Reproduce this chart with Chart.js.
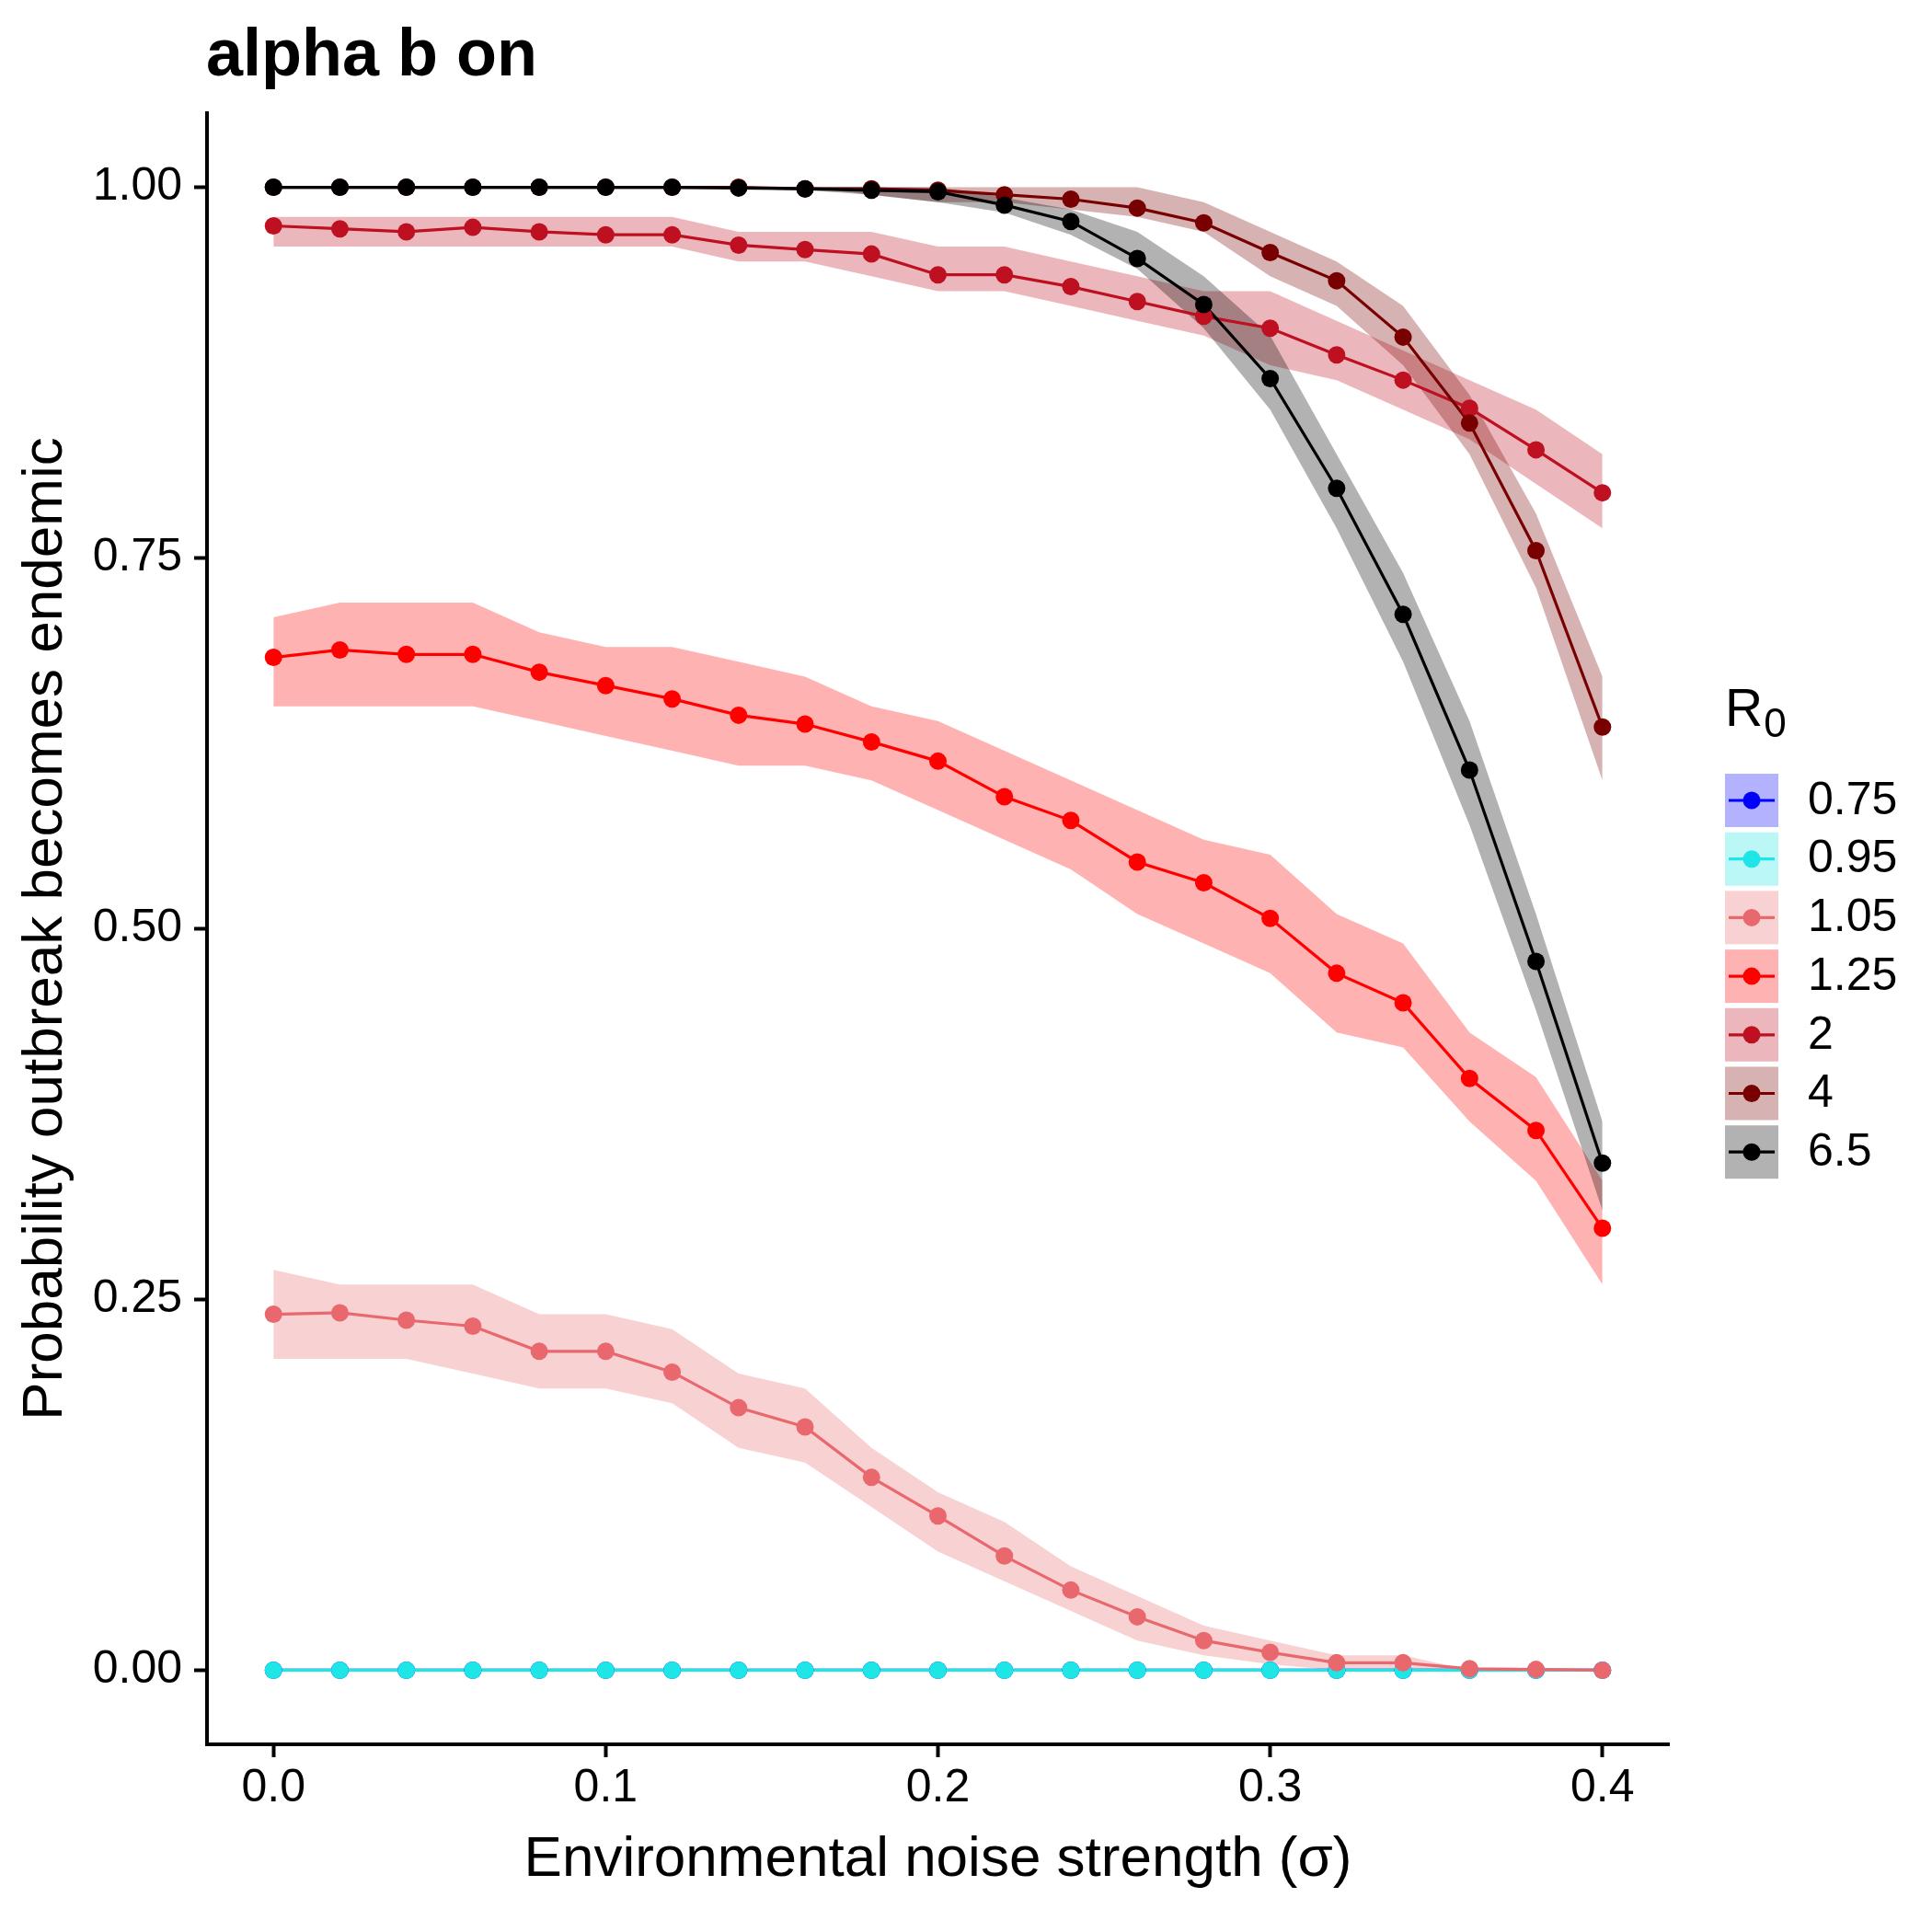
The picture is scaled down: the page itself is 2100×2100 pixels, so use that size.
<!DOCTYPE html>
<html><head><meta charset="utf-8">
<script src="https://cdn.jsdelivr.net/npm/chart.js@4/dist/chart.umd.min.js"></script>
<style>html,body{margin:0;padding:0;background:#fff}canvas{display:block}</style>
</head><body>
<canvas id="c" width="2100" height="2100" style="width:2100px;height:2100px"></canvas>
<script>
// ---------- data ----------
const sigma = [0.00,0.02,0.04,0.06,0.08,0.10,0.12,0.14,0.16,0.18,0.20,0.22,0.24,0.26,0.28,0.30,0.32,0.34,0.36,0.38,0.40];
const r0Labels = ['0.75','0.95','1.05','1.25','2','4','6.5'];
const xTicks = [0.0,0.1,0.2,0.3,0.4];
const xTickLabels = ['0.0','0.1','0.2','0.3','0.4'];
const yTicks = [0.00,0.25,0.50,0.75,1.00];
const yTickLabels = ['0.00','0.25','0.50','0.75','1.00'];

const p075  = [0,0,0,0,0,0,0,0,0,0,0,0,0,0,0,0,0,0,0,0,0];
const lo075 = [0,0,0,0,0,0,0,0,0,0,0,0,0,0,0,0,0,0,0,0,0];
const hi075 = [0,0,0,0,0,0,0,0,0,0,0,0,0,0,0,0,0,0,0,0,0];

const p095  = [0,0,0,0,0,0,0,0,0,0,0,0,0,0,0,0,0,0,0,0,0];
const lo095 = [0,0,0,0,0,0,0,0,0,0,0,0,0,0,0,0,0,0,0,0,0];
const hi095 = [0,0,0,0,0,0,0,0,0,0,0,0,0,0,0,0,0,0,0,0,0];

const p105  = [0.240,0.241,0.236,0.232,0.215,0.215,0.201,0.177,0.164,0.130,0.104,0.077,0.054,0.036,0.020,0.012,0.005,0.005,0.001,0.0005,0.000];
const lo105 = [0.21,0.21,0.21,0.20,0.19,0.19,0.18,0.15,0.14,0.11,0.08,0.06,0.04,0.02,0.01,0.004,0.00,0.00,0.00,0.00,0.00];
const hi105 = [0.27,0.26,0.26,0.26,0.24,0.24,0.23,0.20,0.19,0.15,0.12,0.10,0.07,0.05,0.03,0.02,0.01,0.01,0.00,0.00,0.00];

const p125  = [0.683,0.688,0.685,0.685,0.673,0.664,0.655,0.644,0.638,0.626,0.613,0.589,0.573,0.545,0.531,0.507,0.470,0.450,0.399,0.364,0.298];
const lo125 = [0.65,0.65,0.65,0.65,0.64,0.63,0.62,0.61,0.61,0.60,0.58,0.56,0.54,0.51,0.49,0.47,0.43,0.42,0.37,0.33,0.26];
const hi125 = [0.71,0.72,0.72,0.72,0.70,0.69,0.69,0.68,0.67,0.65,0.64,0.62,0.60,0.58,0.56,0.55,0.51,0.49,0.43,0.40,0.33];

const p2  = [0.974,0.972,0.970,0.973,0.970,0.968,0.968,0.961,0.958,0.955,0.941,0.941,0.933,0.923,0.913,0.905,0.887,0.870,0.851,0.823,0.794];
const lo2 = [0.96,0.96,0.96,0.96,0.96,0.96,0.96,0.95,0.95,0.94,0.93,0.93,0.92,0.91,0.90,0.88,0.87,0.85,0.83,0.80,0.77];
const hi2 = [0.98,0.98,0.98,0.98,0.98,0.98,0.98,0.97,0.97,0.97,0.96,0.96,0.95,0.94,0.93,0.93,0.91,0.89,0.87,0.85,0.82];

const p4  = [1.000,1.000,1.000,1.000,1.000,1.000,1.000,1.000,0.999,0.999,0.998,0.995,0.992,0.986,0.976,0.956,0.937,0.899,0.841,0.755,0.636];
const lo4 = [1.00,1.00,1.00,1.00,1.00,1.00,1.00,1.00,1.00,0.995,0.99,0.99,0.985,0.98,0.97,0.94,0.92,0.88,0.82,0.73,0.60];
const hi4 = [1.00,1.00,1.00,1.00,1.00,1.00,1.00,1.00,1.00,1.00,1.00,1.00,1.00,1.00,0.99,0.97,0.95,0.92,0.86,0.78,0.67];

const p65  = [1.000,1.000,1.000,1.000,1.000,1.000,1.000,0.9995,0.999,0.998,0.997,0.988,0.977,0.952,0.921,0.871,0.797,0.712,0.607,0.478,0.342];
const lo65 = [1.00,1.00,1.00,1.00,1.00,1.00,1.00,0.999,0.998,0.995,0.99,0.983,0.968,0.945,0.905,0.85,0.77,0.68,0.57,0.445,0.31];
const hi65 = [1.00,1.00,1.00,1.00,1.00,1.00,1.00,1.00,1.00,1.00,1.00,0.993,0.985,0.97,0.94,0.90,0.82,0.74,0.64,0.51,0.37];

// ---------- styles ----------
const lineRGB = [[0,0,255],[30,230,230],[232,104,110],[255,0,0],[190,16,32],[120,0,0],[0,0,0]];
const FONT = '"Liberation Sans", Arial, Helvetica, sans-serif';

const vals = [p075,p095,p105,p125,p2,p4,p65];
const los  = [lo075,lo095,lo105,lo125,lo2,lo4,lo65];
const his  = [hi075,hi095,hi105,hi125,hi2,hi4,hi65];

const rgb = c => `rgb(${c[0]},${c[1]},${c[2]})`;
const rgba = (c,a) => `rgba(${c[0]},${c[1]},${c[2]},${a})`;
const pts = arr => sigma.map((x,j) => ({x: x, y: arr[j]}));

const datasets = [];
r0Labels.forEach((lab, i) => {
  const c = lineRGB[i];
  // ribbon upper
  datasets.push({ label: lab + ' hi', data: pts(his[i]), borderWidth: 0, borderColor: 'rgba(0,0,0,0)',
    pointRadius: 0, fill: false, order: 100 + (6 - i) });
  // ribbon lower, filled to previous
  datasets.push({ label: lab + ' lo', data: pts(los[i]), borderWidth: 0, borderColor: 'rgba(0,0,0,0)',
    backgroundColor: rgba(c, 0.3), pointRadius: 0, fill: '-1', order: 100 + (6 - i) });
});
r0Labels.forEach((lab, i) => {
  const c = lineRGB[i];
  datasets.push({ label: lab, data: pts(vals[i]), borderColor: rgb(c), borderWidth: 3.2,
    pointRadius: 0, fill: false, tension: 0, order: 50 + (6 - i) });
});
r0Labels.forEach((lab, i) => {
  const c = lineRGB[i];
  datasets.push({ label: lab + ' pts', data: pts(vals[i]), showLine: false, pointRadius: 9.5,
    pointBackgroundColor: rgb(c), pointBorderWidth: 0, pointBorderColor: rgb(c), fill: false, order: (6 - i) });
});

// ---------- custom title + legend ----------
const decor = {
  id: 'decor',
  afterDraw(chart) {
    const ctx = chart.ctx;
    ctx.save();
    ctx.fillStyle = '#000';
    ctx.textAlign = 'left';
    ctx.textBaseline = 'alphabetic';
    ctx.font = 'bold 72px ' + FONT;
    ctx.fillText('alpha b on', 224, 82);

    // legend title R0
    ctx.font = '57px ' + FONT;
    ctx.fillText('R', 1875, 789);
    const rw = ctx.measureText('R').width;
    ctx.font = '44px ' + FONT;
    ctx.fillText('0', 1875 + rw + 1, 801);

    r0Labels.forEach((lab, i) => {
      const c = lineRGB[i];
      const cy = 870 + i * 63.7;
      ctx.fillStyle = rgba(c, 0.3);
      ctx.fillRect(1875, cy - 29, 58, 58);
      ctx.strokeStyle = rgb(c);
      ctx.lineWidth = 3.2;
      ctx.beginPath(); ctx.moveTo(1879, cy); ctx.lineTo(1929, cy); ctx.stroke();
      ctx.fillStyle = rgb(c);
      ctx.beginPath(); ctx.arc(1904, cy, 9.5, 0, Math.PI * 2); ctx.fill();
      ctx.fillStyle = '#000';
      ctx.font = '50px ' + FONT;
      ctx.textBaseline = 'middle';
      ctx.fillText(lab, 1965, cy + 1);
      ctx.textBaseline = 'alphabetic';
    });
    ctx.restore();
  }
};

new Chart(document.getElementById('c'), {
  type: 'line',
  data: { datasets },
  options: {
    responsive: false,
    animation: false,
    devicePixelRatio: 1,
    events: [],
    layout: { padding: { left: 0, right: 286, top: 123, bottom: 0 } },
    plugins: {
      legend: { display: false },
      title: { display: false },
      tooltip: { enabled: false },
      filler: { drawTime: 'beforeDatasetsDraw', propagate: false }
    },
    scales: {
      x: {
        type: 'linear', min: -0.02, max: 0.42,
        afterFit: s => { s.height = 204; },
        afterBuildTicks: s => { s.ticks = xTicks.map(v => ({ value: v })); },
        grid: { display: true, drawOnChartArea: false, drawTicks: true, tickLength: 14, tickWidth: 4, tickColor: '#000' },
        border: { display: true, color: '#000', width: 4 },
        ticks: { color: '#000', padding: 4, maxRotation: 0, autoSkip: false,
          font: { family: FONT, size: 50 }, callback: (v, i) => xTickLabels[i] },
        title: { display: true, text: 'Environmental noise strength (σ)', color: '#000',
          font: { family: FONT, size: 62 }, padding: { top: 0, bottom: 41 } }
      },
      y: {
        type: 'linear', min: -0.05, max: 1.05,
        afterFit: s => { s.width = 225; },
        afterBuildTicks: s => { s.ticks = yTicks.map(v => ({ value: v })); },
        grid: { display: true, drawOnChartArea: false, drawTicks: true, tickLength: 14, tickWidth: 4, tickColor: '#000' },
        border: { display: true, color: '#000', width: 4 },
        ticks: { color: '#000', padding: 13, autoSkip: false,
          font: { family: FONT, size: 50 }, callback: (v, i) => yTickLabels[i] },
        title: { display: true, text: 'Probability outbreak becomes endemic', color: '#000',
          font: { family: FONT, size: 62 }, padding: { top: 13, bottom: 0 } }
      }
    }
  },
  plugins: [decor]
});
</script>
</body></html>
